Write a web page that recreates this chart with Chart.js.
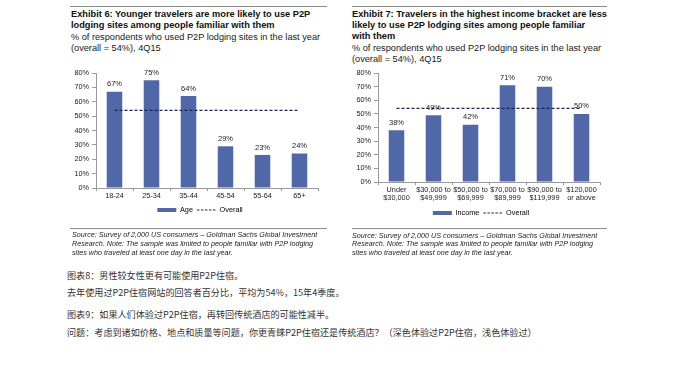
<!DOCTYPE html>
<html>
<head>
<meta charset="utf-8">
<script src="https://cdn.jsdelivr.net/npm/chart.js@4.4.1/dist/chart.umd.min.js"></script>
<style>
  body { margin: 0; width: 678px; height: 389px; overflow: hidden; position: relative; background: #fff;
         font-family: "Liberation Sans", Arial, sans-serif; color: #1a1a1a; }
  .rule { position: absolute; height: 0; border-top: 1.5px solid #8c8c8c; }
  .txt { position: absolute; white-space: nowrap; }
  .ttl { font-weight: bold; font-size: 9.25px; line-height: 11px; color: #111; }
  .sub { font-size: 9.2px; line-height: 11px; }
  .src { font-style: italic; font-size: 7.2px; line-height: 8.8px; color: #222; }
  .cn { font-family: "Noto Sans CJK SC", sans-serif; font-size: 9.1px; line-height: 12px; color: #333; }
  canvas { position: absolute; }
</style>
</head>
<body>
<div class="rule" style="left:70px;top:6px;width:257px"></div>
<div class="txt ttl" style="left:71px;top:9px">Exhibit 6: Younger travelers are more likely to use P2P<br>lodging sites among people familiar with them</div>
<div class="txt sub" style="left:71px;top:31.5px">% of respondents who used P2P lodging sites in the last year<br>(overall = 54%), 4Q15</div>

<div class="rule" style="left:352px;top:6px;width:255px"></div>
<div class="txt ttl" style="left:352px;top:9px">Exhibit 7: Travelers in the highest income bracket are less<br>likely to use P2P lodging sites among people familiar<br>with them</div>
<div class="txt sub" style="left:352px;top:42.5px">% of respondents who used P2P lodging sites in the last year<br>(overall = 54%), 4Q15</div>

<canvas id="ageChart" width="270" height="166" style="left:60px;top:62px"></canvas>
<canvas id="incomeChart" width="270" height="169" style="left:340px;top:62px"></canvas>

<div class="rule" style="left:70px;top:228px;width:257px"></div>
<div class="txt src" style="left:72px;top:231px">Source: Survey of 2,000 US consumers – Goldman Sachs Global Investment<br>Research. Note: The sample was limited to people familiar with P2P lodging<br>sites who traveled at least one day in the last year.</div>
<div class="rule" style="left:352px;top:228px;width:255px"></div>
<div class="txt src" style="left:352px;top:231.5px">Source: Survey of 2,000 US consumers – Goldman Sachs Global Investment<br>Research. Note: The sample was limited to people familiar with P2P lodging<br>sites who traveled at least one day in the last year.</div>

<div class="txt cn" style="left:67px;top:268.5px">图表8：男性较女性更有可能使用P2P住宿。</div>
<div class="txt cn" style="left:67px;top:286.2px">去年使用过P2P住宿网站的回答者百分比，平均为54%，15年4季度。</div>
<div class="txt cn" style="left:67px;top:307.7px">图表9：如果人们体验过P2P住宿，再转回传统酒店的可能性减半。</div>
<div class="txt cn" style="left:67px;top:325.5px">问题：考虑到诸如价格、地点和质量等问题，你更青睐P2P住宿还是传统酒店？（深色体验过P2P住宿，浅色体验过）</div>

<script>
const ageLabels = ['18-24', '25-34', '35-44', '45-54', '55-64', '65+'];
const ageValues = [67, 75, 64, 29, 23, 24];
const ageOverall = [54, 54, 54, 54, 54, 54];

const incomeLabels = [
  ['Under', '$30,000'], ['$30,000 to', '$49,999'], ['$50,000 to', '$69,999'],
  ['$70,000 to', '$89,999'], ['$90,000 to', '$119,999'], ['$120,000', 'or above']
];
const incomeValues = [38, 49, 42, 71, 70, 50];
const incomeOverall = [54, 54, 54, 54, 54, 54];

const yTicks = [0, 10, 20, 30, 40, 50, 60, 70, 80];

const barBlue = '#5068a8';
const navy = '#1b2658';
const axisGrey = '#9a9a9a';
const smallFont = { family: '"Liberation Sans", Arial, sans-serif', size: 7.3, lineHeight: 1.1 };

// percentage above each bar
const valueLabels = {
  id: 'valueLabels',
  afterDatasetsDraw(chart) {
    const ctx = chart.ctx;
    const values = chart.data.datasets[0].data;
    ctx.save();
    ctx.font = '7.5px "Liberation Sans", Arial, sans-serif';
    ctx.fillStyle = '#222';
    ctx.textAlign = 'center';
    ctx.textBaseline = 'middle';
    chart.getDatasetMeta(0).data.forEach((bar, i) => {
      ctx.fillText(values[i] + '%', bar.x, bar.y - 7.5);
    });
    ctx.restore();
  }
};

// nudge the legend sideways so it sits where the original has it
const legendShift = {
  id: 'legendShift',
  afterLayout(chart, args, opts) {
    chart.legend.left += opts.dx;
    chart.legend.right += opts.dx;
  }
};

function drawChart(id, labels, values, overall, seriesName, box) {
  return new Chart(document.getElementById(id), {
    data: {
      labels: labels,
      datasets: [
        { type: 'bar', label: seriesName, data: values, backgroundColor: barBlue,
          categoryPercentage: 1, barPercentage: 0.42, order: 1 },
        { type: 'line', label: 'Overall', data: overall, borderColor: navy, borderWidth: 1.3,
          borderDash: [3, 2], pointRadius: 0, fill: false, order: 0 }
      ]
    },
    options: {
      responsive: false,
      animation: false,
      layout: { padding: box.padding },
      plugins: {
        tooltip: { enabled: false },
        legendShift: { dx: box.legendDx },
        legend: {
          position: 'bottom',
          labels: {
            usePointStyle: true,
            pointStyleWidth: 19,
            boxHeight: 7,
            padding: 4,
            color: '#222',
            font: smallFont,
            generateLabels: chart => chart.data.datasets.map((ds, i) => ({
              text: ds.label,
              datasetIndex: i,
              pointStyle: 'line',
              fillStyle: 'rgba(0,0,0,0)',
              strokeStyle: i === 0 ? barBlue : navy,
              lineWidth: i === 0 ? 4 : 1.2,
              lineDash: i === 0 ? [] : [2.5, 1.5],
              hidden: false
            }))
          }
        }
      },
      scales: {
        x: {
          grid: { display: true, drawOnChartArea: false, offset: true, tickLength: 3, color: axisGrey },
          border: { color: axisGrey },
          ticks: { font: smallFont, color: '#222', padding: 1, maxRotation: 0, autoSkip: false },
          afterFit: s => { s.height = box.xh; }
        },
        y: {
          min: 0,
          max: 80,
          afterBuildTicks: s => { s.ticks = yTicks.map(v => ({ value: v })); },
          grid: { drawOnChartArea: false, tickLength: 4, color: axisGrey },
          border: { color: axisGrey },
          ticks: { font: smallFont, color: '#222', padding: 3, callback: v => v + '%' },
          afterFit: s => { s.width = box.yw; }
        }
      }
    },
    plugins: [valueLabels, legendShift]
  });
}

drawChart('ageChart', ageLabels, ageValues, ageOverall, 'Age',
  { padding: { left: 0, right: 12, top: 11, bottom: 4.35 }, yw: 36, xh: 14.35, legendDx: 11 });
drawChart('incomeChart', incomeLabels, incomeValues, incomeOverall, 'Income',
  { padding: { left: 0, right: 10, top: 11, bottom: 4.35 }, yw: 38, xh: 23.35, legendDx: 11 });
</script>
</body>
</html>
